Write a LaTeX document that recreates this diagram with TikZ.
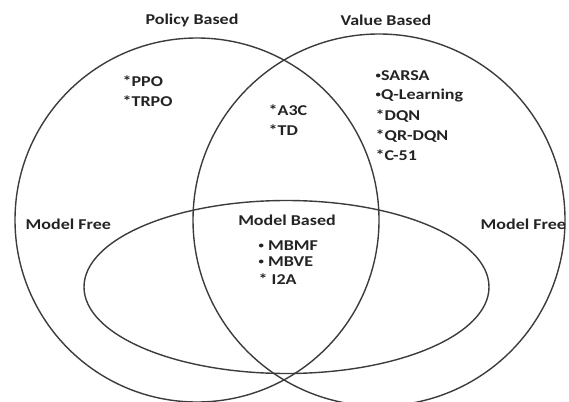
\documentclass[tikz,border=0pt]{standalone}
\usepackage{fontspec}
\setmainfont{Carlito}[FakeStretch=1.2]

% small list dot
\newcommand{\listdot}{\raisebox{.3ex}{\scalebox{.6}{•}}}

\tikzset{every picture/.style={line width=1.4pt}}
\tikzset{
	setline/.style={draw={rgb, 255:red, 60; green, 60; blue, 60}},
	settext/.style={font=\bfseries\fontsize{15}{18}\selectfont, text={rgb, 255:red, 35; green, 35; blue, 35}, inner sep=0pt},
	itemtext/.style={settext, anchor=west}}

\begin{document}
\begin{tikzpicture}[x=1pt,y=1pt,yscale=-1,xscale=1]
	\useasboundingbox (0,0) rectangle (569,401);

	%Shape: Circle [policy set]
	\draw [setline] (197,220) circle (182) ;
	%Shape: Circle [value set]
	\draw [setline] (379,220) circle (186) ;
	%Shape: Ellipse [model based set]
	\draw [setline] (286.5,287) ellipse (202.5 and 86.5) ;

	% Text Node
	\node [settext] (policy) at (192,20) {Policy Based};
	% Text Node
	\node [settext] (value) at (386,20) {Value Based};
	% Text Node
	\node [itemtext] (ppo) at (122,81) {*PPO};
	% Text Node
	\node [itemtext] (trpo) at (122,101) {*TRPO};
	% Text Node
	\node [itemtext] (a3c) at (268,110) {*A3C};
	% Text Node
	\node [itemtext] (td) at (268,130) {*TD};
	% Text Node
	\node [itemtext] (sarsa) at (375,76) {\listdot SARSA};
	% Text Node
	\node [itemtext] (qlearn) at (375,96) {\listdot Q-Learning};
	% Text Node
	\node [itemtext] (dqn) at (375,116) {*DQN};
	% Text Node
	\node [itemtext] (qrdqn) at (375,136) {*QR-DQN};
	% Text Node
	\node [itemtext] (cfiftyone) at (375,155) {*C-51};
	% Text Node
	\node [itemtext] (freeleft) at (25,224) {Model Free};
	% Text Node
	\node [itemtext] (freeright) at (480,224) {Model Free};
	% Text Node
	\node [settext] (based) at (287,220) {Model Based};
	% Text Node
	\node [itemtext] (mbmf) at (258,246) {\listdot\ MBMF};
	% Text Node
	\node [itemtext] (mbve) at (258,262) {\listdot\ MBVE};
	% Text Node
	\node [itemtext] (itwoa) at (258,279) {* I2A};

\end{tikzpicture}
\end{document}
